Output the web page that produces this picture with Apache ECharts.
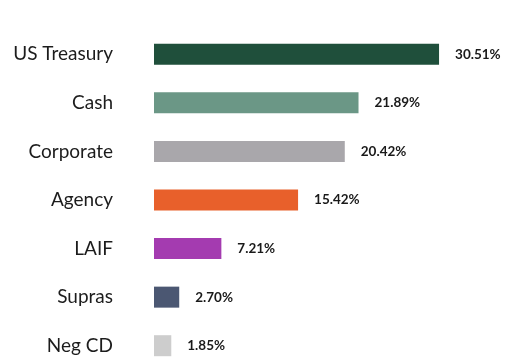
<!DOCTYPE html>
<html>
<head>
<meta charset="utf-8">
<script src="https://cdn.jsdelivr.net/npm/echarts@6/dist/echarts.min.js"></script>
<style>
  html, body { margin: 0; padding: 0; background: #ffffff; }
  #chart { width: 506px; height: 357px; }
</style>
</head>
<body>
<div id="chart"></div>
<script>
// Portfolio allocation by sector (percent of holdings)
const categories = ['US Treasury', 'Cash', 'Corporate', 'Agency', 'LAIF', 'Supras', 'Neg CD'];
const values = [30.51, 21.89, 20.42, 15.42, 7.21, 2.70, 1.85];
const barColors = ['#1f4f3b', '#6b9786', '#a9a7ab', '#e8602b', '#a43bb0', '#4b5772', '#cdcdcd'];

const chart = echarts.init(document.getElementById('chart'), null, { renderer: 'canvas' });

chart.setOption({
  animation: false,
  backgroundColor: '#ffffff',
  grid: { left: 154, top: 30, width: 327, height: 340, outerBoundsMode: 'none', containLabel: false },
  xAxis: {
    type: 'value',
    min: 0,
    max: 35,
    show: false
  },
  yAxis: {
    type: 'category',
    inverse: true,
    data: categories,
    axisLine: { show: false },
    axisTick: { show: false },
    splitLine: { show: false },
    axisLabel: {
      margin: 41,
      color: '#1c1c1c',
      fontSize: 19,
      fontFamily: 'Lato, "Open Sans", sans-serif'
    }
  },
  series: [{
    type: 'bar',
    barWidth: 21,
    data: values.map((v, i) => ({ value: v, itemStyle: { color: barColors[i] } })),
    label: {
      show: true,
      position: 'right',
      distance: 16,
      color: '#1a1a1a',
      fontSize: 13.5,
      fontWeight: 'bold',
      fontFamily: 'Lato, "Open Sans", sans-serif',
      formatter: p => p.value.toFixed(2) + '%'
    }
  }]
});
</script>
</body>
</html>
